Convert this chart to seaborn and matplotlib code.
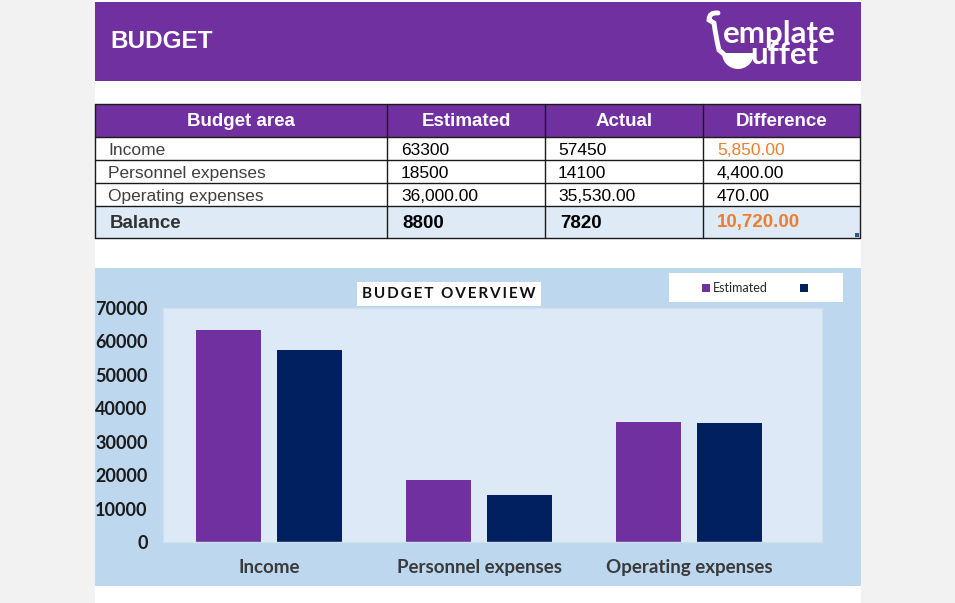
import matplotlib
matplotlib.use("Agg")
import matplotlib.pyplot as plt
import seaborn as sns
import pandas as pd
from matplotlib.patches import Rectangle, Patch, Wedge
from matplotlib.path import Path
import matplotlib.patches as mpatches

# ---------------- data ----------------
categories = ["Income", "Personnel expenses", "Operating expenses"]
series_names = ["Estimated", "Actual"]
estimated = [63300, 18500, 36000]
actual = [57450, 14100, 35530]

table_headers = ["Budget area", "Estimated", "Actual", "Difference"]
estimated_labels = ["63300", "18500", "36,000.00"]
actual_labels = ["57450", "14100", "35,530.00"]
difference_labels = ["5,850.00", "4,400.00", "470.00"]
balance_labels = ["Balance", "8800", "7820", "10,720.00"]
y_ticks = [0, 10000, 20000, 30000, 40000, 50000, 60000, 70000]
legend_labels = ["Estimated", ""]
chart_title = "BUDGET OVERVIEW"

PURPLE = "#7030a0"
NAVY = "#002060"
ORANGE = "#ed7d31"
PANEL = "#bdd7ee"
PLOTBG = "#dde9f6"

sns.set_theme(style="white")
plt.rcParams['font.family'] = ['Lato', 'DejaVu Sans']

fig = plt.figure(figsize=(9.55, 6.03), dpi=100)
fig.patch.set_facecolor("#f2f2f2")

bg = fig.add_axes([0, 0, 1, 1], zorder=0)
bg.set_xlim(0, 955)
bg.set_ylim(603, 0)
bg.axis("off")

# page
bg.add_patch(Rectangle((95, 0), 766, 603, fc="white", ec="none"))
# header band
bg.add_patch(Rectangle((95, 2), 766, 79, fc=PURPLE, ec="none"))
bg.text(110, 41, "BUDGET", color="white", fontsize=17.5, fontweight="bold",
        family="Liberation Sans", va="center", ha="left")

# logo
bg.text(723, 43, "emplate", color="white", fontsize=22.5, fontweight="bold",
        family="Lato", va="baseline", ha="left")
bg.text(750, 64, "uffet", color="white", fontsize=22.5, fontweight="bold",
        family="Lato", va="baseline", ha="left")
verts = [(718, 13), (709, 12), (709, 20), (714, 23), (716, 38), (719, 50), (726, 56)]
codes = [Path.MOVETO, Path.CURVE3, Path.CURVE3, Path.LINETO, Path.CURVE3, Path.CURVE3, Path.LINETO]
bg.add_patch(mpatches.PathPatch(Path(verts, codes), fc="none", ec="white", lw=3.5, capstyle="round"))
bg.add_patch(Wedge((738, 53), 16, 0, 180, fc="white", ec="none"))

# ---------------- table ----------------
col_x = [95, 387, 545, 703, 860]
row_y = [104, 137, 160, 183, 206, 238]
bg.add_patch(Rectangle((95, 104), 765, 33, fc=PURPLE, ec="none"))
bg.add_patch(Rectangle((95, 206), 765, 32, fc="#deebf7", ec="none"))
for i, h in enumerate(table_headers):
    bg.text((col_x[i] + col_x[i + 1]) / 2, 121, h, color="white", fontsize=13.5,
            fontweight="bold", family="Liberation Sans", ha="center", va="center")

text_x = [108, 401, 558, 717]
for r in range(3):
    yc = (row_y[r + 1] + row_y[r + 2]) / 2 + 2
    bg.text(text_x[0], yc, categories[r], color="#3f3f3f", fontsize=12.5,
            family="Liberation Sans", ha="left", va="center")
    bg.text(text_x[1], yc, estimated_labels[r], color="black", fontsize=12.5,
            family="Liberation Sans", ha="left", va="center")
    bg.text(text_x[2], yc, actual_labels[r], color="black", fontsize=12.5,
            family="Liberation Sans", ha="left", va="center")
    bg.text(text_x[3], yc, difference_labels[r], color=ORANGE if r == 0 else "black",
            fontsize=12.5, family="Liberation Sans", ha="left", va="center")

bal_colors = ["#333333", "black", "black", ORANGE]
bal_x = [110, 402, 560, 717]
for i, t in enumerate(balance_labels):
    bg.text(bal_x[i], 223, t, color=bal_colors[i], fontsize=13.5, fontweight="bold",
            family="Liberation Sans", ha="left", va="center")

for x in col_x:
    bg.plot([x, x], [104, 238], color="#1a1a1a", lw=1.0)
for y in row_y:
    bg.plot([95, 860], [y, y], color="#1a1a1a", lw=1.0)
bg.add_patch(Rectangle((855, 233), 4, 4, fc="#2f5597", ec="none"))

# ---------------- chart panel ----------------
bg.add_patch(Rectangle((95, 268), 766, 318, fc=PANEL, ec="none"))
bg.add_patch(Rectangle((357, 282), 184, 24, fc="white", ec="none", zorder=5))
spaced_title = "\u2009".join(chart_title).replace("\u2009 \u2009", "  ")
bg.text(449, 294.5, spaced_title, color="#111111", fontsize=11,
        fontweight="bold", ha="center", va="center", zorder=6,
        family=["Lato", "DejaVu Sans"])
bg.add_patch(Rectangle((669, 273), 174, 29, fc="white", ec="none", zorder=5))

ax = fig.add_axes([163 / 955, (603 - 542) / 603, (822 - 163) / 955, 234 / 603], zorder=2)
ax.set_facecolor(PLOTBG)

df = pd.DataFrame({
    "category": categories * 2,
    "series": [series_names[0]] * 3 + [series_names[1]] * 3,
    "value": estimated + actual,
})
sns.barplot(data=df, x="category", y="value", hue="series", hue_order=series_names,
            palette=[PURPLE, NAVY], saturation=1, width=0.767, gap=0.19,
            ax=ax, legend=False, errorbar=None, linewidth=0, edgecolor="none")

ax.set_xlim(-0.505, 2.633)
ax.set_ylim(0, 70000)
ax.set_yticks(y_ticks)
ax.set_yticklabels([str(v) for v in y_ticks])
ax.set_xlabel("")
ax.set_ylabel("")
ax.tick_params(axis="y", length=0, pad=11, labelsize=13, labelcolor="#1a1a1a")
ax.tick_params(axis="x", length=0, pad=12, labelsize=13.5, labelcolor="#3a3a3a")
for lab in ax.get_yticklabels() + ax.get_xticklabels():
    lab.set_fontweight("bold")
for s in ax.spines.values():
    s.set_color("#cfe0f1")
    s.set_linewidth(1)

handles = [Patch(fc=PURPLE, ec="none"), Patch(fc=NAVY, ec="none")]
leg = fig.legend(handles=handles, labels=legend_labels, loc="center left",
                 bbox_to_anchor=(702 / 955, 1 - 288 / 603), ncol=2, frameon=False,
                 fontsize=9, handlelength=0.6, handleheight=0.6, handletextpad=0.25,
                 columnspacing=2.6, borderpad=0, borderaxespad=0)
leg.set_zorder(10)

fig.savefig("out.png", dpi=100, facecolor=fig.get_facecolor())
